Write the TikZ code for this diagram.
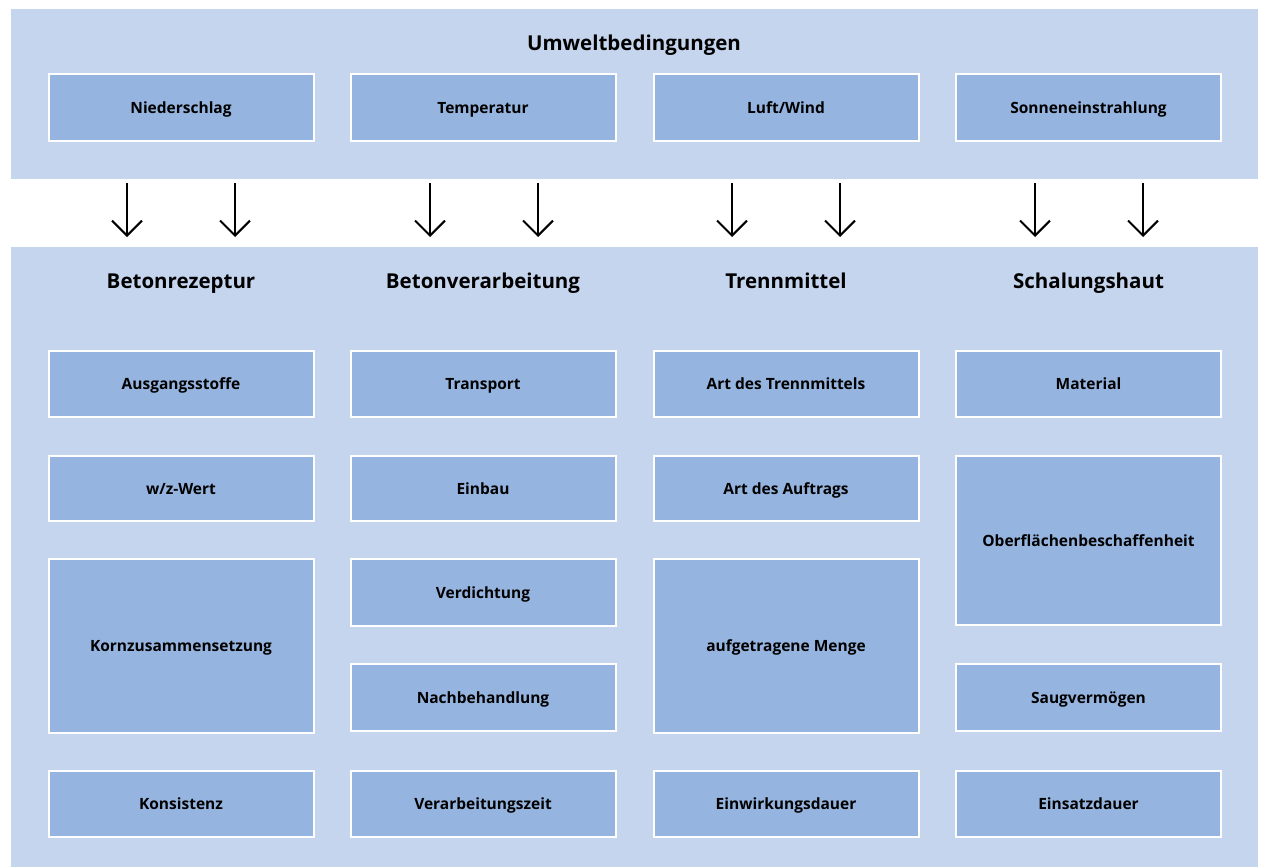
\documentclass[tikz,border=0pt]{standalone}
\usepackage{fontspec}
\setmainfont{Open Sans}
\usetikzlibrary{arrows.meta}
\definecolor{panelc}{HTML}{C6D5EE}
\definecolor{boxc}{HTML}{95B5E0}
\tikzset{
  panel/.style={fill=panelc, draw=none, inner sep=0, anchor=north west},
  box/.style={fill=boxc, draw=white, line width=2pt, minimum width=265pt, inner sep=0, text height=14pt, text depth=2pt, font=\fontsize{15.5}{18}\selectfont\bfseries, text=black},
  head/.style={font=\fontsize{20.5}{24}\selectfont\bfseries, text=black, inner sep=0, text height=15pt, text depth=1pt},
  arr/.style={line width=2pt, -{Straight Barb[length=15pt,width=30pt,line width=2pt]}},
}
\begin{document}
\begin{tikzpicture}[x=1pt,y=-1pt]
\useasboundingbox (0,0) rectangle (1264,867);
\fill[white] (0,0) rectangle (1264,867);
\node[panel, minimum width=1247pt, minimum height=170pt] (top) at (11,9) {};
\node[panel, minimum width=1247pt, minimum height=620pt] (bot) at (11,247) {};
\node[head] (title) at (634,44) {Umweltbedingungen};
% top boxes
\node[box, minimum height=66pt] (n1) at (181,107.5) {Niederschlag};
\node[box, minimum height=66pt] (n2) at (483,107.5) {Temperatur};
\node[box, minimum height=66pt] (n3) at (786,107.5) {Luft/Wind};
\node[box, minimum height=66pt] (n4) at (1088.5,107.5) {Sonneneinstrahlung};
% arrows
\foreach \i/\x in {1/127,2/235,3/430,4/538,5/732,6/840,7/1035,8/1143}{
  \coordinate (as\i) at (\x,183);
  \coordinate (ae\i) at (\x,237);
  \draw[arr] (as\i) -- (ae\i);
}
% headings
\node[head] (h1) at (181,281) {Betonrezeptur};
\node[head] (h2) at (483,281) {Betonverarbeitung};
\node[head] (h3) at (786,281) {Trennmittel};
\node[head] (h4) at (1088.5,281) {Schalungshaut};
% column 1
\node[box, minimum height=66pt] (a1) at (181,383.5) {Ausgangsstoffe};
\node[box, minimum height=65pt] (a2) at (181,488) {w/z-Wert};
\node[box, minimum height=174pt] (a3) at (181,645.5) {Kornzusammensetzung};
\node[box, minimum height=66pt] (a4) at (181,803.5) {Konsistenz};
% column 2
\node[box, minimum height=66pt] (b1) at (483,383.5) {Transport};
\node[box, minimum height=65pt] (b2) at (483,488) {Einbau};
\node[box, minimum height=67pt] (b3) at (483,592) {Verdichtung};
\node[box, minimum height=67pt] (b4) at (483,697) {Nachbehandlung};
\node[box, minimum height=66pt] (b5) at (483,803.5) {Verarbeitungszeit};
% column 3
\node[box, minimum height=66pt] (c1) at (786,383.5) {Art des Trennmittels};
\node[box, minimum height=65pt] (c2) at (786,488) {Art des Auftrags};
\node[box, minimum height=174pt] (c3) at (786,645.5) {aufgetragene Menge};
\node[box, minimum height=66pt] (c4) at (786,803.5) {Einwirkungsdauer};
% column 4
\node[box, minimum height=66pt] (d1) at (1088.5,383.5) {Material};
\node[box, minimum height=169pt] (d2) at (1088.5,540) {Oberflächenbeschaffenheit};
\node[box, minimum height=67pt] (d3) at (1088.5,697) {Saugvermögen};
\node[box, minimum height=66pt] (d4) at (1088.5,803.5) {Einsatzdauer};
\end{tikzpicture}
\end{document}
